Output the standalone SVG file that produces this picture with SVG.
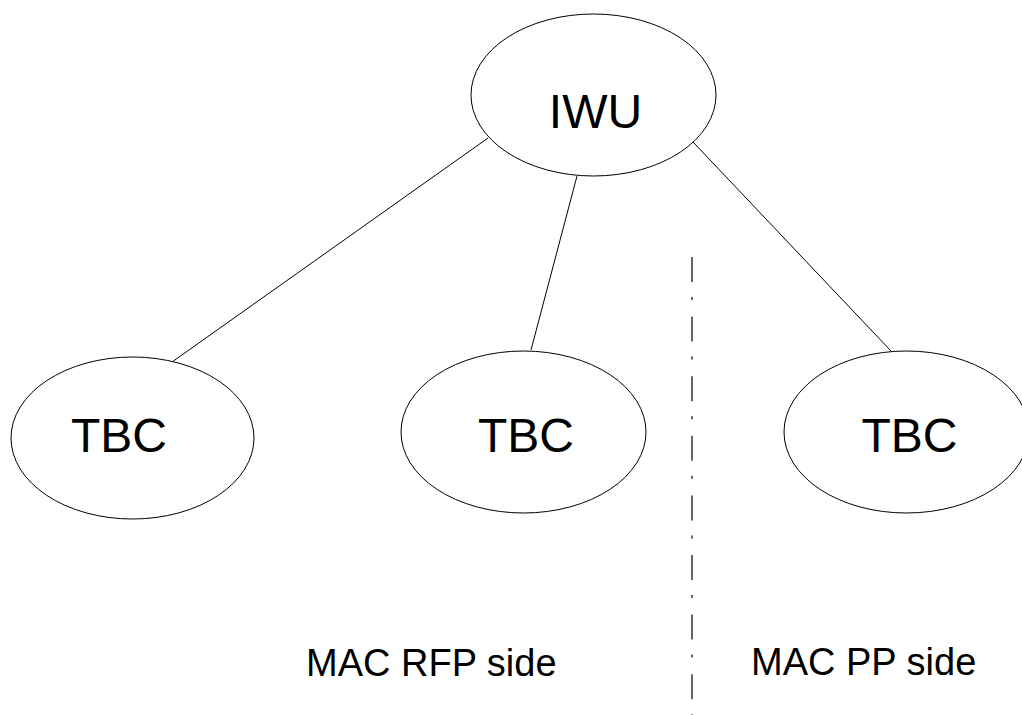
<svg xmlns="http://www.w3.org/2000/svg" width="1022" height="715" viewBox="0 0 1022 715">
  <style>
    .node { fill: #ffffff; stroke: #000000; stroke-width: 1; }
    .label { font-family: "Liberation Sans", Arial, sans-serif; font-size: 48px; fill: #000000; text-anchor: middle; }
    .side { font-family: "Liberation Sans", Arial, sans-serif; font-size: 38px; fill: #000000; }
    .conn { stroke: #000000; stroke-width: 1; fill: none; }
    .divider { stroke: #000000; stroke-width: 1.2; stroke-dasharray: 25 15 3 16.6; fill: none; }
  </style>
  <rect width="1022" height="715" fill="#ffffff"/>
  <g id="connectors">
    <line class="conn" x1="488" y1="138" x2="172" y2="362"/>
    <line class="conn" x1="577" y1="176" x2="531" y2="350"/>
    <line class="conn" x1="693" y1="142" x2="891" y2="351"/>
  </g>
  <g id="iwu">
    <ellipse class="node" cx="593.5" cy="95" rx="122.5" ry="81"/>
    <text class="label" x="595.5" y="128">IWU</text>
  </g>
  <g id="tbc1">
    <ellipse class="node" cx="132.5" cy="438" rx="121.5" ry="81"/>
    <text class="label" x="119" y="452">TBC</text>
  </g>
  <g id="tbc2">
    <ellipse class="node" cx="523.5" cy="432" rx="122.5" ry="81"/>
    <text class="label" x="526" y="452">TBC</text>
  </g>
  <g id="tbc3">
    <ellipse class="node" cx="906.5" cy="432" rx="122.5" ry="81"/>
    <text class="label" x="909.5" y="452">TBC</text>
  </g>
  <g id="divider">
    <line class="divider" x1="692" y1="257" x2="692" y2="715"/>
  </g>
  <g id="labels">
    <text class="side" x="306" y="676">MAC RFP side</text>
    <text class="side" x="751" y="675">MAC PP side</text>
  </g>
</svg>
